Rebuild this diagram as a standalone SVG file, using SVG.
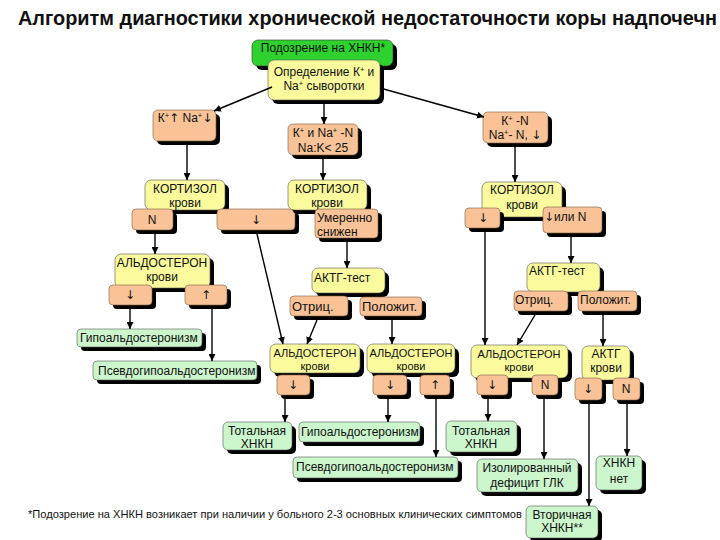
<svg xmlns="http://www.w3.org/2000/svg" width="720" height="540" viewBox="0 0 720 540">
<defs>
<style>
text{font-family:"Liberation Sans",Arial,sans-serif;font-size:12px;fill:#111}
.c{text-anchor:middle}
.t{font-size:20px;font-weight:bold}
.s{fill:#000}
.o{fill:#f9c397;stroke:#7a5a40;stroke-width:0.6}
.y{fill:#fbfb9e;stroke:#555;stroke-width:0.6}
.g{fill:#ccf6cc;stroke:#555;stroke-width:0.6}
.G{fill:#2fd12f;stroke:#333;stroke-width:0.6}
.l{stroke:#000;stroke-width:1.4;fill:none;marker-end:url(#a)}
.al{font-size:11px}
.a{font-family:"DejaVu Sans",sans-serif;font-size:12px}
.b{font-size:13px}
.sup{font-size:7.5px}
.fn{font-size:11.1px}
</style>
<marker id="a" viewBox="0 0 10 10" refX="10" refY="5" markerWidth="7" markerHeight="7" markerUnits="userSpaceOnUse" orient="auto"><path d="M0,0 L10,5 L0,10 z" fill="#000"/></marker>
</defs>
<rect width="720" height="540" fill="#fff"/>
<text class="t" x="18" y="25" textLength="699" lengthAdjust="spacingAndGlyphs">Алгоритм диагностики хронической недостаточности коры надпочечн</text>

<g id="n-suspicion">
<rect class="s" x="256" y="44" width="141" height="26" rx="6"/>
<rect class="G" x="252" y="40" width="141" height="26" rx="6"/>
<text class="c" x="323" y="52">Подозрение на ХНКН*</text>
</g>
<g id="n-determine">
<rect class="s" x="272" y="64" width="112" height="40" rx="6"/>
<rect class="y" x="268" y="60" width="112" height="40" rx="6"/>
<text class="c" x="324" y="76" font-size="11.5">Определение К<tspan class="sup" dy="-4">+</tspan><tspan dy="4"> и</tspan></text>
<text class="c" x="324" y="90" font-size="11.5">Na<tspan class="sup" dy="-4">+</tspan><tspan dy="4"> сыворотки</tspan></text>
</g>

<g id="n-k-up">
<rect class="s" x="157" y="114" width="63" height="31" rx="5"/>
<rect class="o" x="153" y="110" width="63" height="31" rx="5"/>
<text class="c" x="185" y="122" font-size="12.5">К<tspan class="sup" dy="-4">+</tspan><tspan class="a" dy="4">↑</tspan> Na<tspan class="sup" dy="-4">+</tspan><tspan class="a" dy="4">↓</tspan></text>
</g>
<g id="n-k-n">
<rect class="s" x="292" y="128" width="70" height="31" rx="5"/>
<rect class="o" x="288" y="124" width="70" height="31" rx="5"/>
<text class="c" x="323" y="137" font-size="12.4">К<tspan class="sup" dy="-4">+</tspan><tspan dy="4"> и Na</tspan><tspan class="sup" dy="-4">+</tspan><tspan dy="4"> -N</tspan></text>
<text class="c" x="323" y="152" font-size="12.4">Na:K&lt; 25</text>
</g>
<g id="n-k-n2">
<rect class="s" x="487" y="116" width="65" height="31" rx="5"/>
<rect class="o" x="483" y="112" width="65" height="31" rx="5"/>
<text class="c" x="515" y="125">К<tspan class="sup" dy="-4">+</tspan><tspan dy="4"> -N</tspan></text>
<text class="c" x="515" y="139">Na<tspan class="sup" dy="-4">+</tspan><tspan dy="4">- N, </tspan><tspan class="a">↓</tspan></text>
</g>

<g id="n-cort1">
<rect class="s" x="149" y="184" width="80" height="30" rx="6"/>
<rect class="y" x="145" y="180" width="80" height="30" rx="6"/>
<text class="c" x="185" y="193">КОРТИЗОЛ</text>
<text class="c" x="185" y="207">крови</text>
<rect class="s" x="136" y="213" width="41" height="21" rx="4"/>
<rect class="o" x="132" y="209" width="41" height="21" rx="4"/>
<text class="c" x="152" y="224">N</text>
<rect class="s" x="221" y="213" width="78" height="21" rx="4"/>
<rect class="o" x="217" y="209" width="78" height="21" rx="4"/>
<text class="c a" x="256" y="224">↓</text>
</g>
<g id="n-cort2">
<rect class="s" x="292" y="184" width="79" height="30" rx="6"/>
<rect class="y" x="288" y="180" width="79" height="30" rx="6"/>
<text class="c" x="327" y="193">КОРТИЗОЛ</text>
<text class="c" x="327" y="207">крови</text>
<rect class="s" x="319" y="213" width="63" height="29" rx="4"/>
<rect class="o" x="315" y="209" width="63" height="29" rx="4"/>
<text x="317" y="222" font-size="12.3">Умеренно</text>
<text x="317" y="236" font-size="12.3">снижен</text>
</g>
<g id="n-cort3">
<rect class="s" x="486" y="186" width="80" height="35" rx="6"/>
<rect class="y" x="482" y="182" width="80" height="35" rx="6"/>
<text class="c" x="522" y="194">КОРТИЗОЛ</text>
<text class="c" x="522" y="209">крови</text>
<rect class="s" x="469" y="212" width="35" height="20" rx="4"/>
<rect class="o" x="465" y="208" width="35" height="20" rx="4"/>
<text class="c a" x="483" y="222">↓</text>
<rect class="s" x="547" y="211" width="59" height="26" rx="4"/>
<rect class="o" x="543" y="207" width="59" height="26" rx="4"/>
<text x="544" y="221"><tspan class="a">↓</tspan>или N</text>
</g>

<g id="n-ald1">
<rect class="s" x="119" y="258" width="95" height="34" rx="6"/>
<rect class="y" x="115" y="254" width="95" height="34" rx="6"/>
<text class="c" x="162" y="267">АЛЬДОСТЕРОН</text>
<text class="c" x="162" y="281">крови</text>
<rect class="s" x="113" y="289" width="43" height="20" rx="4"/>
<rect class="o" x="109" y="285" width="43" height="20" rx="4"/>
<text class="c a" x="130" y="299">↓</text>
<rect class="s" x="189" y="289" width="42" height="20" rx="4"/>
<rect class="o" x="185" y="285" width="42" height="20" rx="4"/>
<text class="c a" x="206" y="299">↑</text>
</g>
<g id="n-hypo1">
<rect class="s" x="81" y="333" width="125" height="18" rx="4"/>
<rect class="g" x="77" y="329" width="125" height="18" rx="4"/>
<text x="80" y="342">Гипоальдостеронизм</text>
</g>
<g id="n-pseudo1">
<rect class="s" x="97" y="365" width="164" height="19" rx="4"/>
<rect class="g" x="93" y="361" width="164" height="19" rx="4"/>
<text x="98" y="375">Псевдогипоальдостеронизм</text>
</g>

<g id="n-acth1">
<rect class="s" x="316" y="272" width="73" height="25" rx="6"/>
<rect class="y" x="312" y="268" width="73" height="25" rx="6"/>
<text x="314" y="282" font-size="12.6">АКТГ-тест</text>
<rect class="s" x="294" y="300" width="58" height="20" rx="4"/>
<rect class="o" x="290" y="296" width="58" height="20" rx="4"/>
<text class="b" x="292" y="311">Отриц.</text>
<rect class="s" x="364" y="301" width="62" height="19" rx="4"/>
<rect class="o" x="360" y="297" width="62" height="19" rx="4"/>
<text class="b" x="362" y="311">Положит.</text>
</g>
<g id="n-acth2">
<rect class="s" x="531" y="267" width="73" height="29" rx="6"/>
<rect class="y" x="527" y="263" width="73" height="29" rx="6"/>
<text x="529" y="275" font-size="11">АКТГ-тест</text>
<rect class="s" x="518" y="295" width="54" height="20" rx="4"/>
<rect class="o" x="514" y="291" width="54" height="20" rx="4"/>
<text x="515" y="304" font-size="12.3">Отриц.</text>
<rect class="s" x="582" y="295" width="59" height="20" rx="4"/>
<rect class="o" x="578" y="291" width="59" height="20" rx="4"/>
<text x="580" y="304" font-size="12.8">Положит.</text>
</g>

<g id="n-ald2">
<rect class="s" x="274" y="348" width="90" height="29" rx="6"/>
<rect class="y" x="270" y="344" width="90" height="29" rx="6"/>
<text class="c al" x="315" y="357">АЛЬДОСТЕРОН</text>
<text class="c al" x="315" y="370">крови</text>
<rect class="s" x="281" y="379" width="33" height="20" rx="4"/>
<rect class="o" x="277" y="375" width="33" height="20" rx="4"/>
<text class="c a" x="293" y="389">↓</text>
</g>
<g id="n-ald3">
<rect class="s" x="371" y="348" width="88" height="29" rx="6"/>
<rect class="y" x="367" y="344" width="88" height="29" rx="6"/>
<text class="c al" x="411" y="357">АЛЬДОСТЕРОН</text>
<text class="c al" x="411" y="370">крови</text>
<rect class="s" x="377" y="379" width="34" height="20" rx="4"/>
<rect class="o" x="373" y="375" width="34" height="20" rx="4"/>
<text class="c a" x="390" y="389">↓</text>
<rect class="s" x="424" y="379" width="30" height="20" rx="4"/>
<rect class="o" x="420" y="375" width="30" height="20" rx="4"/>
<text class="c a" x="435" y="389">↑</text>
</g>
<g id="n-ald4">
<rect class="s" x="475" y="349" width="97" height="33" rx="6"/>
<rect class="y" x="471" y="345" width="97" height="33" rx="6"/>
<text class="c al" x="519" y="358">АЛЬДОСТЕРОН</text>
<text class="c al" x="519" y="371">крови</text>
<rect class="s" x="481" y="379" width="31" height="20" rx="4"/>
<rect class="o" x="477" y="375" width="31" height="20" rx="4"/>
<text class="c a" x="492" y="389">↓</text>
<rect class="s" x="536" y="379" width="26" height="20" rx="4"/>
<rect class="o" x="532" y="375" width="26" height="20" rx="4"/>
<text class="c" x="545" y="389">N</text>
</g>
<g id="n-acthblood">
<rect class="s" x="586" y="350" width="48" height="34" rx="6"/>
<rect class="y" x="582" y="346" width="48" height="34" rx="6"/>
<text class="c" x="606" y="358">АКТГ</text>
<text class="c" x="606" y="372">крови</text>
<rect class="s" x="579" y="382" width="27" height="22" rx="4"/>
<rect class="o" x="575" y="378" width="27" height="22" rx="4"/>
<text class="c a" x="588" y="393">↓</text>
<rect class="s" x="617" y="382" width="27" height="22" rx="4"/>
<rect class="o" x="613" y="378" width="27" height="22" rx="4"/>
<text class="c" x="626" y="393">N</text>
</g>

<g id="n-total1">
<rect class="s" x="227" y="426" width="69" height="28" rx="5"/>
<rect class="g" x="223" y="422" width="69" height="28" rx="5"/>
<text class="c" x="257" y="435">Тотальная</text>
<text class="c" x="257" y="448">ХНКН</text>
</g>
<g id="n-hypo2">
<rect class="s" x="303" y="426" width="121" height="20" rx="4"/>
<rect class="g" x="299" y="422" width="121" height="20" rx="4"/>
<text x="301" y="436">Гипоальдостеронизм</text>
</g>
<g id="n-pseudo2">
<rect class="s" x="297" y="461" width="165" height="21" rx="4"/>
<rect class="g" x="293" y="457" width="165" height="21" rx="4"/>
<text x="296" y="471">Псевдогипоальдостеронизм</text>
</g>
<g id="n-total2">
<rect class="s" x="450" y="425" width="71" height="31" rx="5"/>
<rect class="g" x="446" y="421" width="71" height="31" rx="5"/>
<text class="c" x="481" y="435">Тотальная</text>
<text class="c" x="481" y="448">ХНКН</text>
</g>
<g id="n-isolated">
<rect class="s" x="481" y="463" width="101" height="33" rx="5"/>
<rect class="g" x="477" y="459" width="101" height="33" rx="5"/>
<text class="c" x="527" y="472">Изолированный</text>
<text class="c" x="527" y="487">дефицит ГЛК</text>
</g>
<g id="n-none">
<rect class="s" x="600" y="460" width="46" height="34" rx="5"/>
<rect class="g" x="596" y="456" width="46" height="34" rx="5"/>
<text class="c" x="619" y="467">ХНКН</text>
<text class="c" x="619" y="483">нет</text>
</g>
<g id="n-secondary">
<rect class="s" x="530" y="510" width="72" height="32" rx="5"/>
<rect class="g" x="526" y="506" width="72" height="32" rx="5"/>
<text class="c" x="562" y="519">Вторичная</text>
<text class="c" x="562" y="532">ХНКН**</text>
</g>

<text class="fn" x="28" y="518">*Подозрение на ХНКН возникает при наличии у больного 2-3 основных клинических симптомов</text>

<g id="connectors">
<line class="l" x1="272" y1="87" x2="214" y2="111"/>
<line class="l" x1="324" y1="104" x2="324" y2="124"/>
<line class="l" x1="380" y1="88" x2="484" y2="117"/>
<line class="l" x1="187" y1="145" x2="187" y2="180"/>
<line class="l" x1="323" y1="159" x2="323" y2="180"/>
<line class="l" x1="515" y1="147" x2="515" y2="182"/>
<line class="l" x1="155" y1="234" x2="155" y2="254"/>
<line class="l" x1="257" y1="234" x2="283" y2="344"/>
<line class="l" x1="347" y1="242" x2="347" y2="268"/>
<line class="l" x1="130" y1="309" x2="130" y2="329"/>
<line class="l" x1="212" y1="309" x2="212" y2="361"/>
<line class="l" x1="317" y1="320" x2="307" y2="344"/>
<line class="l" x1="392" y1="320" x2="392" y2="344"/>
<line class="l" x1="485" y1="232" x2="485" y2="345"/>
<line class="l" x1="571" y1="237" x2="571" y2="263"/>
<line class="l" x1="535" y1="315" x2="517" y2="345"/>
<line class="l" x1="603" y1="315" x2="603" y2="346"/>
<line class="l" x1="285" y1="399" x2="285" y2="422"/>
<line class="l" x1="388" y1="399" x2="388" y2="422"/>
<line class="l" x1="436" y1="399" x2="436" y2="457"/>
<line class="l" x1="488" y1="399" x2="488" y2="421"/>
<line class="l" x1="544" y1="399" x2="544" y2="459"/>
<line class="l" x1="589" y1="404" x2="589" y2="506"/>
<line class="l" x1="627" y1="404" x2="627" y2="456"/>
</g>
</svg>
